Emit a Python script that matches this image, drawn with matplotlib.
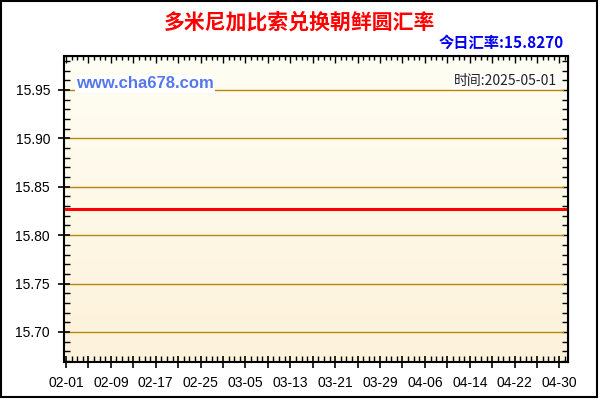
import numpy as np
import pandas as pd
import matplotlib
matplotlib.use('Agg')
import matplotlib.pyplot as plt
from matplotlib.patches import Rectangle

plt.rcParams['font.family'] = ['Liberation Sans', 'Noto Sans CJK SC', 'DejaVu Sans']

title = '多米尼加比索兑换朝鲜圆汇率'
today_text = '今日汇率:15.8270'
site = 'www.cha678.com'
date_text = '时间:2025-05-01'

# daily rates 2025-02-01 .. 2025-05-01, flat the whole period
dates = pd.date_range('2025-02-01', '2025-05-01', freq='D')
rate = 15.8270
rates = np.full(len(dates), rate)

yticks = [15.70, 15.75, 15.80, 15.85, 15.90, 15.95]
yminor = [15.67, 15.68, 15.69, 15.71, 15.72, 15.73, 15.74, 15.76, 15.77, 15.78,
          15.79, 15.81, 15.82, 15.83, 15.84, 15.86, 15.87, 15.88, 15.89, 15.91,
          15.92, 15.93, 15.94, 15.96, 15.97, 15.98]

fig = plt.figure(figsize=(6, 4), dpi=100)
ax = fig.add_axes([64/600, 38/400, 504/600, 306/400])

# background gradient (light cream at top, warmer at bottom)
top = np.array([255, 254, 244]) / 255
bot = np.array([253, 242, 218]) / 255
t = np.linspace(0, 1, 256)[:, None]
grad = (top * (1 - t) + bot * t)[:, None, :]
ax.imshow(grad, extent=[0, 1, 0, 1], transform=ax.transAxes,
          aspect='auto', zorder=0)

x = np.arange(len(dates))
for yv in yticks:
    ax.plot([0, 0.99], [yv, yv], transform=ax.get_yaxis_transform(),
            color='#B8860B', lw=1, zorder=1)
ax.plot(x, rates, color='#FF0000', lw=2.2, zorder=3)

major = x[::4]
ax.set_yticks(yticks)
ax.set_yticklabels([f'{v:.2f}' for v in yticks])
ax.set_yticks(yminor, minor=True)
ax.set_xticks(major)
ax.set_xticklabels([dates[i].strftime('%m-%d') if i % 8 == 0 else '' for i in major])
ax.set_xticks(x, minor=True)

ax.set_xlim(-0.36, 89.52)
ax.set_ylim(rate - 0.158, rate + 0.158)

ax.tick_params(which='major', direction='inout', length=8, width=1.2,
               labelsize=10, pad=6)
ax.tick_params(which='minor', direction='in', length=4, width=1)
for s in ax.spines.values():
    s.set_linewidth(1.5)

# inward ticks on the top and right frame
axt = ax.secondary_xaxis('top')
axt.set_xticks(major)
axt.set_xticks(x, minor=True)
axt.tick_params(which='major', direction='in', length=5, width=1, labeltop=False)
axt.tick_params(which='minor', direction='in', length=3, width=1)
axr = ax.secondary_yaxis('right')
axr.set_yticks(yticks)
axr.set_yticks(yminor, minor=True)
axr.tick_params(which='major', direction='in', length=4, width=1, labelright=False)
axr.tick_params(which='minor', direction='in', length=4, width=1)

fig.text(0.5, 1 - 22/400, title, ha='center', va='center', color='#FF0000',
         fontsize=15, fontweight='bold', family=['Noto Sans CJK SC'])
fig.text(564/600, 1 - 43/400, today_text, ha='right', va='center',
         color='#0000EE', fontsize=11, fontweight='bold',
         family=['Noto Sans CJK SC', 'DejaVu Sans'])
fig.text(76/600, 1 - 84/400, site, ha='left', va='center', color='#5577EE',
         fontsize=12, fontweight='bold',
         bbox=dict(facecolor='white', edgecolor='none', pad=1))
fig.text(557/600, 1 - 81/400, date_text, ha='right', va='center', color='#222222',
         fontsize=10, family=['Noto Sans CJK SC', 'DejaVu Sans'],
         bbox=dict(facecolor='white', edgecolor='none', pad=1))

fig.patches.append(Rectangle((1/600, 3/400), 596/600, 396/400,
                             transform=fig.transFigure, fill=False,
                             edgecolor='black', lw=1.5))

fig.savefig('out.png', dpi=100)
